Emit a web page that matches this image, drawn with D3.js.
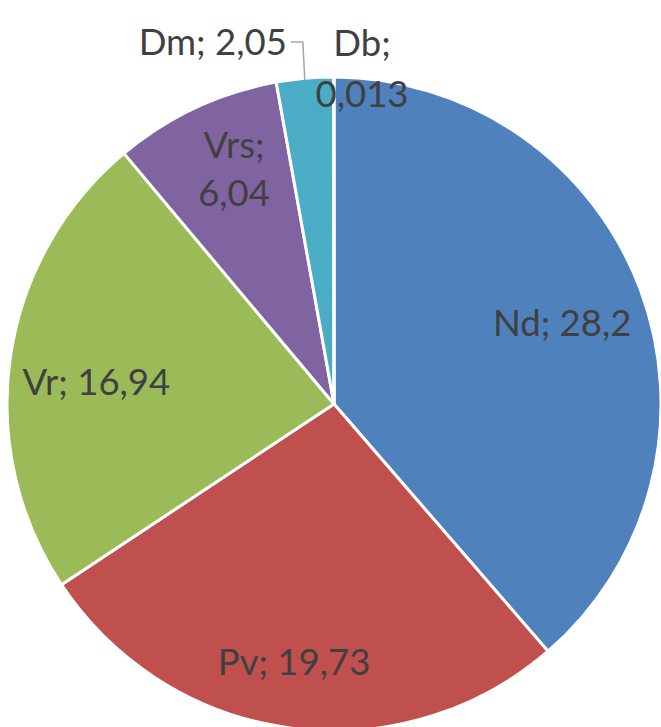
<!DOCTYPE html>
<html><head><meta charset="utf-8">
<script src="https://cdn.jsdelivr.net/npm/d3@7"></script>
<style>html,body{margin:0;padding:0;background:#fff;overflow:hidden}</style>
</head><body>
<svg id="c" width="661" height="727"></svg>
<script>
const categories = ["Nd", "Pv", "Vr", "Vrs", "Dm", "Db"];
const values = [28.2, 19.73, 16.94, 6.04, 2.05, 0.013];
const valueLabels = ["28,2", "19,73", "16,94", "6,04", "2,05", "0,013"];
const colors = ["#4F81BD", "#C0504D", "#9BBB59", "#8064A2", "#4BACC6", "#4F81BD"];

const svg = d3.select("#c");
const cx = 334, cy = 404, R = 327;
const g = svg.append("g").attr("transform", `translate(${cx},${cy})`);
const data = categories.map((c, i) => ({cat: c, value: values[i], label: valueLabels[i], color: colors[i]}));
const pie = d3.pie().value(d => d.value).sort(null);
const arc = d3.arc().innerRadius(0).outerRadius(R);
const arcs = pie(data);
g.selectAll("path").data(arcs).join("path")
  .attr("d", arc).attr("fill", d => d.data.color)
  .attr("stroke", "#fff").attr("stroke-width", 3).attr("stroke-linejoin", "round");

// label layout (angle offsets in degrees, radius fractions, lines)
const layout = {
  Nd:  {r: 0.74, da: 1,  lines: 1},
  Pv:  {r: 0.80, da: 1,  lines: 1},
  Vr:  {r: 0.73, da: -3, lines: 1},
  Vrs: {r: 0.78, da: 2,  lines: 2},
  Dm:  {outside: true},
  Db:  {outside: true}
};
const fs = 36.5;
const txt = svg.append("g").attr("font-family", "Lato, 'Open Sans', sans-serif")
  .attr("font-size", fs).attr("fill", "#404040");
arcs.forEach(a => {
  const L = layout[a.data.cat];
  const mid = (a.startAngle + a.endAngle) / 2;
  if (!L.outside) {
    const ang = mid + L.da * Math.PI / 180;
    const x = cx + R * L.r * Math.sin(ang), y = cy - R * L.r * Math.cos(ang);
    if (L.lines === 1) {
      txt.append("text").attr("x", x).attr("y", y).attr("text-anchor", "middle")
        .attr("dy", "0.35em").text(`${a.data.cat}; ${a.data.label}`);
    } else {
      const t = txt.append("text").attr("x", x).attr("y", y).attr("text-anchor", "middle");
      t.append("tspan").attr("x", x).attr("dy", "-0.3em").text(`${a.data.cat};`);
      t.append("tspan").attr("x", x).attr("dy", "1.3em").text(a.data.label);
    }
  }
});
// Dm: outside with leader
const dm = arcs[4];
const dmMid = (dm.startAngle + dm.endAngle) / 2;
const ex = cx + R * Math.sin(dmMid), ey = cy - R * Math.cos(dmMid);
svg.append("path").attr("d", `M${ex},${ey + 2} L${ex - 2},${cy - R - 35} L${ex - 14},${cy - R - 35}`)
  .attr("fill", "none").attr("stroke", "#A6A6A6").attr("stroke-width", 1.5);
txt.append("text").attr("x", ex - 18).attr("y", cy - R - 35).attr("dy", "0.35em")
  .attr("text-anchor", "end").text(`${dm.data.cat}; ${dm.data.label}`);
// Db: stacked near top
const db = arcs[5];
const t2 = txt.append("text").attr("text-anchor", "middle");
t2.append("tspan").attr("x", cx + 28).attr("y", cy - R - 21).text(`${db.data.cat};`);
t2.append("tspan").attr("x", cx + 28).attr("y", cy - R + 30).text(db.data.label);
</script>
</body></html>
